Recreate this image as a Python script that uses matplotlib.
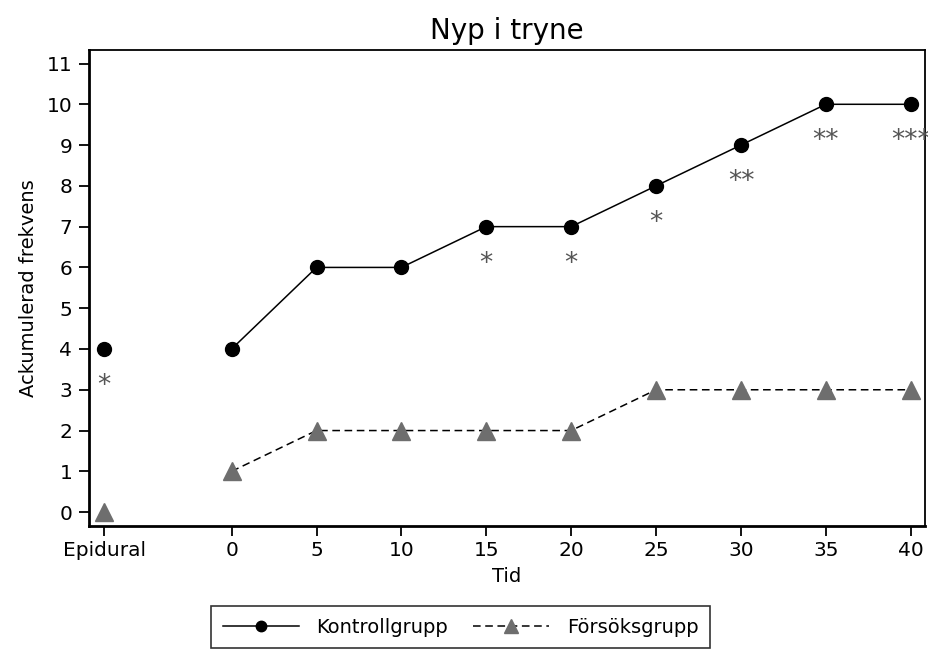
import matplotlib
matplotlib.use("Agg")
import matplotlib.pyplot as plt

plt.rcParams['font.family'] = ['DejaVu Sans']

epidural_pos = -7.5
times = [0, 5, 10, 15, 20, 25, 30, 35, 40]
tick_labels = ['Epidural', '0', '5', '10', '15', '20', '25', '30', '35', '40']

control_epidural = 4
control_vals = [4, 6, 6, 7, 7, 8, 9, 10, 10]
treat_epidural = 0
treat_vals = [1, 2, 2, 2, 2, 3, 3, 3, 3]

star_x = [epidural_pos, 15, 20, 25, 30, 35, 40]
star_base = [4, 7, 7, 8, 9, 10, 10]
star_text = ['*', '*', '*', '*', '**', '**', '***']

fig = plt.figure(figsize=(9.29, 6.5), dpi=100)
ax = fig.add_axes([0.0958, 0.1908, 0.9957 - 0.0958, 0.923 - 0.1908])

gray = '#6e6e6e'

ax.plot(times, control_vals, color='black', lw=1.1, marker='o', ms=10,
        markerfacecolor='black', markeredgecolor='black', label='Kontrollgrupp', zorder=4)
ax.plot([epidural_pos], [control_epidural], color='black', lw=0, marker='o', ms=10, zorder=4)

ax.plot(times, treat_vals, color='black', lw=1.1, ls=(0, (5, 3)), marker='^', ms=13,
        markerfacecolor=gray, markeredgecolor=gray, label='Försöksgrupp', zorder=3)
ax.plot([epidural_pos], [treat_epidural], color=gray, lw=0, marker='^', ms=13,
        markerfacecolor=gray, markeredgecolor=gray, zorder=3)

for x, b, t in zip(star_x, star_base, star_text):
    ax.text(x, b - 1.08, t, ha='center', va='baseline', fontsize=19, color='#555555',
            clip_on=False)

ax.set_xlim(-8.4, 40.84)
ax.set_ylim(-0.34, 11.33)
ax.set_xticks([epidural_pos] + times)
ax.set_xticklabels(tick_labels)
ax.set_yticks(range(0, 12))
ax.tick_params(axis='both', direction='out', length=7, width=1.3, labelsize=14.5, colors='black')
ax.tick_params(axis='x', pad=4)
ax.tick_params(axis='y', pad=5)

for side in ['left', 'bottom']:
    ax.spines[side].set_linewidth(2)
for side in ['top', 'right']:
    ax.spines[side].set_linewidth(1.3)

ax.set_title('Nyp i tryne', fontsize=20, pad=8)
ax.set_xlabel('Tid', fontsize=14, labelpad=5)
ax.set_ylabel('Ackumulerad frekvens', fontsize=14, labelpad=6)

leg = fig.legend(loc='center', bbox_to_anchor=(0.496, 0.035), ncol=2, fontsize=14,
                 frameon=True, fancybox=False, edgecolor='black', handlelength=3.9,
                 markerscale=0.75, columnspacing=1.3, borderpad=0.6, handletextpad=0.9)
leg.get_frame().set_linewidth(1.2)

fig.savefig('out.png', dpi=100)
